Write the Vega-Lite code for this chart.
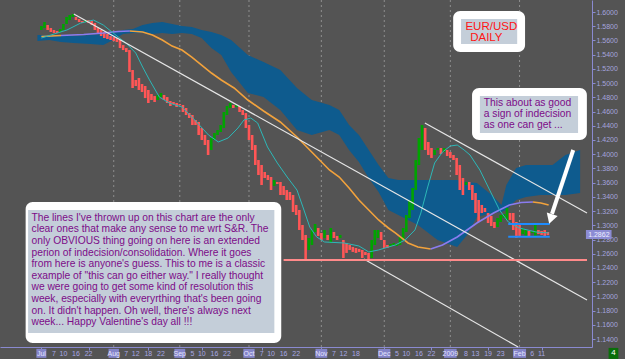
{
"$schema": "https://vega.github.io/schema/vega-lite/v6.json",
"width": 592, "height": 347,
"autosize": {"type": "none"},
"padding": {"left": 0, "top": 0, "right": 33, "bottom": 12},
"background": "#545454",
"config": {"view": {"stroke": null}, "text": {"font": "Liberation Sans"}, "axis": {"grid": false, "labels": false, "ticks": false, "domain": false, "labelOverlap": false, "labelSeparation": 0}},
"resolve": {"axis": {"y": "independent"}},
"datasets": {
"grid": [{"i": 23}, {"i": 44}, {"i": 66}, {"i": 89}, {"i": 109}, {"i": 130}, {"i": 152}],
"cloud": [
{"i": -1.25, "t": 1.5677, "b": 1.5592}, {"i": 2.5, "t": 1.5677, "b": 1.5606}, {"i": 6.25, "t": 1.5677, "b": 1.5578},
{"i": 10.31, "t": 1.5662, "b": 1.5564}, {"i": 15.63, "t": 1.5677, "b": 1.5550}, {"i": 19.69, "t": 1.5691, "b": 1.5535},
{"i": 22.81, "t": 1.5705, "b": 1.5606}, {"i": 25.94, "t": 1.5747, "b": 1.5691}, {"i": 29.06, "t": 1.5761, "b": 1.5705},
{"i": 32.19, "t": 1.5817, "b": 1.5705}, {"i": 35.31, "t": 1.5845, "b": 1.5691}, {"i": 38.44, "t": 1.5859, "b": 1.5705},
{"i": 41.56, "t": 1.5831, "b": 1.5691}, {"i": 44.69, "t": 1.5803, "b": 1.5705}, {"i": 47.81, "t": 1.5789, "b": 1.5691},
{"i": 50.94, "t": 1.5747, "b": 1.5634}, {"i": 54.06, "t": 1.5719, "b": 1.5493}, {"i": 57.19, "t": 1.5677, "b": 1.5395},
{"i": 60.31, "t": 1.5606, "b": 1.5156}, {"i": 65.63, "t": 1.5395, "b": 1.4861}, {"i": 70.63, "t": 1.5297, "b": 1.4804},
{"i": 75.94, "t": 1.5184, "b": 1.4622}, {"i": 81.25, "t": 1.4931, "b": 1.4340}, {"i": 85.94, "t": 1.4762, "b": 1.4270},
{"i": 91.56, "t": 1.4692, "b": 1.4340}, {"i": 94.69, "t": 1.4622, "b": 1.4270}, {"i": 97.81, "t": 1.4411, "b": 1.4059},
{"i": 100.94, "t": 1.4270, "b": 1.3890}, {"i": 104.06, "t": 1.4059, "b": 1.3665}, {"i": 107.19, "t": 1.3848, "b": 1.3468},
{"i": 110.31, "t": 1.3665, "b": 1.3215}, {"i": 113.44, "t": 1.3637, "b": 1.3145}, {"i": 119.69, "t": 1.3637, "b": 1.3004},
{"i": 125.94, "t": 1.3637, "b": 1.2793}, {"i": 132.19, "t": 1.3637, "b": 1.2695}, {"i": 135.31, "t": 1.3609, "b": 1.2864},
{"i": 138.44, "t": 1.3595, "b": 1.3117}, {"i": 143.13, "t": 1.3426, "b": 1.3173}, {"i": 146.25, "t": 1.3286, "b": 1.3187},
{"i": 147.81, "t": 1.3567, "b": 1.3215}, {"i": 150.94, "t": 1.3806, "b": 1.3356}, {"i": 154.06, "t": 1.3848, "b": 1.3398},
{"i": 158.75, "t": 1.3848, "b": 1.3426}, {"i": 162.5, "t": 1.3848, "b": 1.3426}, {"i": 166.56, "t": 1.3989, "b": 1.3426},
{"i": 171.25, "t": 1.4059, "b": 1.3454}
],
"candles": [
{"i":0,"o":1.5747,"c":1.5803},{"i":1,"o":1.5775,"c":1.5859},{"i":2,"o":1.5817,"c":1.5747},{"i":3,"o":1.5775,"c":1.5719},
{"i":4,"o":1.5747,"c":1.5705},{"i":5,"o":1.5733,"c":1.5705},{"i":6,"o":1.5719,"c":1.5761},{"i":7,"o":1.5747,"c":1.5831},
{"i":8,"o":1.5831,"c":1.5930},{"i":9,"o":1.5887,"c":1.5958},{"i":10,"o":1.5930,"c":1.5972},{"i":11,"o":1.5930,"c":1.5887},
{"i":12,"o":1.5902,"c":1.5859},{"i":13,"o":1.5873,"c":1.5845},{"i":14,"o":1.5859,"c":1.5887},{"i":15,"o":1.5887,"c":1.5845},
{"i":16,"o":1.5873,"c":1.5817},{"i":17,"o":1.5845,"c":1.5747},{"i":18,"o":1.5775,"c":1.5691},{"i":19,"o":1.5747,"c":1.5662},
{"i":20,"o":1.5719,"c":1.5634},{"i":21,"o":1.5691,"c":1.5620},{"i":22,"o":1.5662,"c":1.5606},{"i":23,"o":1.5648,"c":1.5592},
{"i":24,"o":1.5634,"c":1.5578},{"i":25,"o":1.5606,"c":1.5493},{"i":26,"o":1.5535,"c":1.5465},{"i":27,"o":1.5493,"c":1.5437},
{"i":28,"o":1.5465,"c":1.5156},{"i":29,"o":1.5184,"c":1.4931},{"i":30,"o":1.5044,"c":1.4959},{"i":31,"o":1.5072,"c":1.4903},
{"i":32,"o":1.4987,"c":1.4875},{"i":33,"o":1.4959,"c":1.4790},{"i":34,"o":1.4903,"c":1.4720},{"i":35,"o":1.4847,"c":1.4762},
{"i":36,"o":1.4818,"c":1.4734},{"i":37,"o":1.4762,"c":1.4833},{"i":38,"o":1.4804,"c":1.4861},{"i":39,"o":1.4833,"c":1.4762},
{"i":40,"o":1.4804,"c":1.4720},{"i":41,"o":1.4748,"c":1.4678},{"i":42,"o":1.4734,"c":1.4706},{"i":43,"o":1.4720,"c":1.4664},
{"i":44,"o":1.4706,"c":1.4692},{"i":45,"o":1.4692,"c":1.4593},{"i":46,"o":1.4650,"c":1.4551},{"i":47,"o":1.4579,"c":1.4509},
{"i":48,"o":1.4551,"c":1.4411},{"i":49,"o":1.4481,"c":1.4411},{"i":50,"o":1.4453,"c":1.4270},{"i":51,"o":1.4369,"c":1.4200},
{"i":52,"o":1.4270,"c":1.4129},{"i":53,"o":1.4200,"c":1.3989},{"i":54,"o":1.4059,"c":1.4228},{"i":55,"o":1.4200,"c":1.4298},
{"i":56,"o":1.4270,"c":1.4340},{"i":57,"o":1.4312,"c":1.4411},{"i":58,"o":1.4369,"c":1.4593},{"i":59,"o":1.4551,"c":1.4678},
{"i":60,"o":1.4650,"c":1.4720},{"i":61,"o":1.4692,"c":1.4650},{"i":62,"o":1.4664,"c":1.4692},{"i":63,"o":1.4678,"c":1.4593},
{"i":64,"o":1.4622,"c":1.4551},{"i":65,"o":1.4579,"c":1.4369},{"i":66,"o":1.4411,"c":1.4200},{"i":67,"o":1.4270,"c":1.4059},
{"i":68,"o":1.4129,"c":1.3848},{"i":69,"o":1.3918,"c":1.3707},{"i":70,"o":1.3848,"c":1.3567},{"i":71,"o":1.3750,"c":1.3665},
{"i":72,"o":1.3707,"c":1.3637},{"i":73,"o":1.3679,"c":1.3496},{"i":74,"o":1.3553,"c":1.3637},{"i":75,"o":1.3609,"c":1.3581},
{"i":76,"o":1.3609,"c":1.3426},{"i":77,"o":1.3553,"c":1.3426},{"i":78,"o":1.3496,"c":1.3356},{"i":79,"o":1.3468,"c":1.3356},
{"i":80,"o":1.3426,"c":1.3187},{"i":81,"o":1.3286,"c":1.3145},{"i":82,"o":1.3215,"c":1.2934},{"i":83,"o":1.3004,"c":1.2793},
{"i":84,"o":1.2864,"c":1.2512},{"i":85,"o":1.2653,"c":1.2821},{"i":86,"o":1.2723,"c":1.2934},{"i":87,"o":1.2906,"c":1.3018},
{"i":88,"o":1.2962,"c":1.2850},{"i":89,"o":1.2892,"c":1.2793},{"i":90,"o":1.2821,"c":1.2934},{"i":91,"o":1.2864,"c":1.2793},
{"i":92,"o":1.2751,"c":1.2962},{"i":93,"o":1.2906,"c":1.2821},{"i":94,"o":1.2850,"c":1.2793},{"i":95,"o":1.2821,"c":1.2864},
{"i":96,"o":1.2793,"c":1.2540},{"i":97,"o":1.2751,"c":1.2611},{"i":98,"o":1.2723,"c":1.2653},{"i":99,"o":1.2695,"c":1.2625},
{"i":100,"o":1.2681,"c":1.2611},{"i":101,"o":1.2667,"c":1.2625},{"i":102,"o":1.2653,"c":1.2540},{"i":103,"o":1.2625,"c":1.2582},
{"i":104,"o":1.2611,"c":1.2512},{"i":105,"o":1.2540,"c":1.2793},{"i":106,"o":1.2723,"c":1.2934},{"i":107,"o":1.2821,"c":1.2934},
{"i":108,"o":1.2906,"c":1.2793},{"i":109,"o":1.2793,"c":1.2681},{"i":110,"o":1.2723,"c":1.2681},{"i":111,"o":1.2709,"c":1.2737},
{"i":112,"o":1.2723,"c":1.2751},{"i":113,"o":1.2709,"c":1.2737},{"i":114,"o":1.2723,"c":1.2836},{"i":115,"o":1.2793,"c":1.2962},
{"i":116,"o":1.2906,"c":1.3145},{"i":117,"o":1.3103,"c":1.3356},{"i":118,"o":1.3215,"c":1.3525},{"i":119,"o":1.3496,"c":1.3918},
{"i":120,"o":1.3848,"c":1.4228},{"i":121,"o":1.4059,"c":1.4411},{"i":122,"o":1.4369,"c":1.4059},{"i":123,"o":1.4172,"c":1.3989},
{"i":124,"o":1.4087,"c":1.3947},{"i":125,"o":1.3989,"c":1.4059},{"i":126,"o":1.4059,"c":1.4087},{"i":127,"o":1.4087,"c":1.4003},
{"i":128,"o":1.4031,"c":1.4087},{"i":129,"o":1.4059,"c":1.3975},{"i":130,"o":1.4031,"c":1.3947},{"i":131,"o":1.3989,"c":1.3918},
{"i":132,"o":1.3947,"c":1.3707},{"i":133,"o":1.3848,"c":1.3496},{"i":134,"o":1.3665,"c":1.3426},{"i":135,"o":1.3567,"c":1.3609},
{"i":136,"o":1.3609,"c":1.3496},{"i":137,"o":1.3567,"c":1.3356},{"i":138,"o":1.3454,"c":1.3173},{"i":139,"o":1.3356,"c":1.3046},
{"i":140,"o":1.3286,"c":1.3173},{"i":141,"o":1.3243,"c":1.3187},{"i":142,"o":1.3173,"c":1.3032},{"i":143,"o":1.3131,"c":1.2990},
{"i":144,"o":1.3046,"c":1.2962},{"i":145,"o":1.2976,"c":1.3103},{"i":146,"o":1.3046,"c":1.3145},{"i":147,"o":1.3103,"c":1.3159},
{"i":148,"o":1.3075,"c":1.3243},{"i":149,"o":1.3173,"c":1.3075},{"i":150,"o":1.3173,"c":1.2934},{"i":151,"o":1.3046,"c":1.2821},
{"i":152,"o":1.3004,"c":1.2850},{"i":153,"o":1.2878,"c":1.2962},{"i":154,"o":1.2850,"c":1.2934},{"i":155,"o":1.2920,"c":1.2836},
{"i":156,"o":1.2892,"c":1.2920},{"i":157,"o":1.2850,"c":1.3004},{"i":158,"o":1.2934,"c":1.2878},{"i":159,"o":1.2920,"c":1.2864},
{"i":160,"o":1.2934,"c":1.2836},{"i":161,"o":1.2906,"c":1.2862}
],
"ma": [
{"s":1,"k":"o","i":0,"v":1.5655},{"s":1,"k":"o","i":3.13,"v":1.5662},{"s":1,"k":"o","i":6.25,"v":1.5670},
{"s":2,"k":"p","i":6.25,"v":1.5670},{"s":2,"k":"p","i":13.44,"v":1.5684},{"s":2,"k":"p","i":19.69,"v":1.5705},{"s":2,"k":"p","i":24.38,"v":1.5726},{"s":2,"k":"p","i":28.13,"v":1.5733},
{"s":3,"k":"o","i":28.13,"v":1.5733},{"s":3,"k":"o","i":32.19,"v":1.5719},{"s":3,"k":"o","i":35.31,"v":1.5677},{"s":3,"k":"o","i":38.44,"v":1.5606},
{"s":3,"k":"o","i":41.56,"v":1.5521},{"s":3,"k":"o","i":44.69,"v":1.5465},{"s":3,"k":"o","i":47.81,"v":1.5367},{"s":3,"k":"o","i":50.94,"v":1.5254},
{"s":3,"k":"o","i":54.06,"v":1.5142},{"s":3,"k":"o","i":57.19,"v":1.5044},{"s":3,"k":"o","i":61.25,"v":1.4931},{"s":3,"k":"o","i":65.63,"v":1.4762},
{"s":3,"k":"o","i":70.63,"v":1.4608},{"s":3,"k":"o","i":75.94,"v":1.4453},{"s":3,"k":"o","i":81.25,"v":1.4242},{"s":3,"k":"o","i":86.25,"v":1.4017},
{"s":3,"k":"o","i":91.56,"v":1.3778},{"s":3,"k":"o","i":94.69,"v":1.3679},{"s":3,"k":"o","i":97.81,"v":1.3525},{"s":3,"k":"o","i":100.94,"v":1.3356},
{"s":3,"k":"o","i":104.06,"v":1.3215},{"s":3,"k":"o","i":107.19,"v":1.3075},{"s":3,"k":"o","i":110.31,"v":1.2962},{"s":3,"k":"o","i":112.5,"v":1.2892},
{"s":3,"k":"o","i":116.56,"v":1.2751},{"s":3,"k":"o","i":119.69,"v":1.2695},{"s":3,"k":"o","i":123.75,"v":1.2667},
{"s":4,"k":"p","i":123.75,"v":1.2667},{"s":4,"k":"p","i":127.5,"v":1.2723},{"s":4,"k":"p","i":132.19,"v":1.2836},{"s":4,"k":"p","i":135.31,"v":1.2934},
{"s":4,"k":"p","i":138.44,"v":1.3032},{"s":4,"k":"p","i":143.75,"v":1.3173},{"s":4,"k":"p","i":148.75,"v":1.3286},{"s":4,"k":"p","i":152.5,"v":1.3321},{"s":4,"k":"p","i":156.25,"v":1.3328},
{"s":5,"k":"o","i":156.25,"v":1.3328},{"s":5,"k":"o","i":158.75,"v":1.3314},{"s":5,"k":"o","i":161.25,"v":1.3286}
],
"teal": [
{"i":0,"v":1.5634},{"i":4.06,"v":1.5691},{"i":8.13,"v":1.5747},{"i":12.5,"v":1.5845},{"i":16.56,"v":1.5887},{"i":19.69,"v":1.5817},
{"i":22.81,"v":1.5705},{"i":26.88,"v":1.5564},{"i":30,"v":1.5423},{"i":32.19,"v":1.5226},{"i":34.38,"v":1.5044},{"i":37.5,"v":1.4804},
{"i":40.63,"v":1.4720},{"i":44.69,"v":1.4664},{"i":48.75,"v":1.4481},{"i":53.13,"v":1.4270},{"i":56.25,"v":1.4172},{"i":59.38,"v":1.4228},
{"i":62.5,"v":1.4369},{"i":64.38,"v":1.4481},{"i":66.56,"v":1.4509},{"i":68.75,"v":1.4439},{"i":71.88,"v":1.4101},{"i":75,"v":1.3876},
{"i":78.13,"v":1.3679},{"i":81.25,"v":1.3496},{"i":83.13,"v":1.3258},{"i":85.31,"v":1.2976},{"i":87.5,"v":1.2836},{"i":90,"v":1.2765},
{"i":96.25,"v":1.2751},{"i":100.94,"v":1.2709},{"i":104.06,"v":1.2625},{"i":107.19,"v":1.2653},{"i":112.5,"v":1.2723},{"i":115.63,"v":1.2793},
{"i":118.75,"v":1.2934},{"i":120.63,"v":1.3173},{"i":122.81,"v":1.3539},{"i":125,"v":1.3876},{"i":127.5,"v":1.4031},{"i":130,"v":1.4115},
{"i":132.19,"v":1.4129},{"i":134.38,"v":1.4059},{"i":136.25,"v":1.3989},{"i":139.38,"v":1.3778},{"i":142.5,"v":1.3496},{"i":145.63,"v":1.3215},
{"i":148.44,"v":1.3046},{"i":151.88,"v":1.2962},{"i":157.19,"v":1.2906},{"i":161.25,"v":1.2892}
],
"trend": [
{"x1":10.31,"y1":1.5972,"x2":173.44,"y2":1.1949},
{"x1":121.9,"y1":1.4439,"x2":173.44,"y2":1.3173},
{"x1":102.5,"y1":1.2526,"x2":151.56,"y2":1.1288}
],
"support": [{"x1":77,"y1":1.2512,"x2":173.44,"y2":1.2512}],
"range": [
{"x1":148.4,"y1":1.3018,"x2":161.6,"y2":1.3018},
{"x1":148.4,"y1":1.2840,"x2":161.6,"y2":1.2840}
],
"outer": [
{"x1":-5.0,"x2":76.25,"y1":1.3328,"y2":1.1345},
{"x1":136.9,"x2":173.4,"y1":1.4932,"y2":1.4200},
{"x1":130.9,"x2":153.75,"y1":1.6014,"y2":1.5437}
],
"inner": [
{"x1":-4.22,"x2":74.06,"y1":1.3215,"y2":1.1485},
{"x1":139.4,"x2":170.6,"y1":1.4819,"y2":1.4298},
{"x1":133.4,"x2":151.25,"y1":1.5902,"y2":1.5550}
],
"months": [
{"i":0,"t":"Jul"},{"i":23,"t":"Aug"},{"i":44,"t":"Sep"},{"i":66,"t":"Oct"},{"i":89,"t":"Nov"},{"i":109,"t":"Dec"},{"i":130,"t":"2009"},{"i":152,"t":"Feb"}
],
"days": [
{"i":4,"t":"7"},{"i":7,"t":"10"},{"i":11,"t":"16"},{"i":15,"t":"22"},{"i":27,"t":"7"},{"i":30,"t":"12"},{"i":34,"t":"18"},{"i":38,"t":"22"},
{"i":48,"t":"5"},{"i":51,"t":"10"},{"i":55,"t":"16"},{"i":59,"t":"22"},{"i":70,"t":"7"},{"i":73,"t":"10"},{"i":77,"t":"16"},{"i":81,"t":"22"},
{"i":93,"t":"7"},{"i":96,"t":"12"},{"i":100,"t":"18"},{"i":113,"t":"5"},{"i":116,"t":"10"},{"i":120,"t":"16"},{"i":124,"t":"22"},
{"i":135,"t":"8"},{"i":138,"t":"13"},{"i":142,"t":"19"},{"i":146,"t":"23"},{"i":156,"t":"6"},{"i":159,"t":"11"}
]
},
"layer": [
{"data": {"name": "grid"}, "mark": {"type": "rule", "stroke": "#8e8e8e", "strokeDash": [2, 3], "strokeWidth": 1},
 "encoding": {"x": {"field": "i", "type": "quantitative", "title": null, "scale": {"domain": [-11.56, 173.44], "nice": false, "zero": false},
   "axis": {"orient": "bottom", "title": null, "labels": false, "ticks": true, "domain": true, "grid": false, "values": [0,4,7,11,15,23,27,30,34,38,44,48,51,55,59,66,70,73,77,81,89,93,96,100,109,113,116,120,124,130,135,138,142,146,152,156,159], "domainColor": "#8a8ad0", "tickColor": "#8a8ad0", "tickSize": 3}}}},
{"data": {"name": "cloud"}, "mark": {"type": "area", "color": "#0e5b8e"},
 "encoding": {"x": {"field": "i", "type": "quantitative", "title": null},
   "y": {"field": "t", "type": "quantitative", "title": null, "scale": {"domain": [1.1288, 1.6169], "nice": false, "zero": false},
     "axis": {"orient": "right", "title": null, "grid": false, "labels": true, "ticks": true, "domain": true, "values": [1.14,1.16,1.18,1.2,1.22,1.24,1.26,1.28,1.3,1.32,1.34,1.36,1.38,1.4,1.42,1.44,1.46,1.48,1.5,1.52,1.54,1.56,1.58,1.6], "format": ".4f", "labelColor": "#a4a4de", "labelFont": "Liberation Sans", "labelFontSize": 7, "labelOverlap": false, "labelSeparation": 0, "labelBound": false, "labelPadding": 1, "tickSize": 3, "tickColor": "#8a8ad0", "domainColor": "#8a8ad0"}},
   "y2": {"field": "b"}}},
{"data": {"name": "candles"}, "mark": {"type": "bar", "width": 2.6},
 "encoding": {"x": {"field": "i", "type": "quantitative", "title": null},
   "y": {"field": "o", "type": "quantitative", "title": null},
   "y2": {"field": "c"},
   "color": {"condition": {"test": "datum.c >= datum.o", "value": "#00a400"}, "value": "#ff5656"}}},
{"data": {"name": "ma"}, "mark": {"type": "line", "strokeWidth": 1.6},
 "encoding": {"x": {"field": "i", "type": "quantitative", "title": null},
   "y": {"field": "v", "type": "quantitative", "title": null},
   "detail": {"field": "s", "type": "nominal"},
   "color": {"field": "k", "type": "nominal", "scale": {"domain": ["o", "p"], "range": ["#f2a23c", "#8a7cf0"]}, "legend": null}}},
{"data": {"name": "teal"}, "mark": {"type": "line", "strokeWidth": 1, "color": "#2cb8b8"},
 "encoding": {"x": {"field": "i", "type": "quantitative", "title": null},
   "y": {"field": "v", "type": "quantitative", "title": null}}},
{"data": {"name": "trend"}, "mark": {"type": "rule", "color": "#e6e6e6", "strokeWidth": 1.2},
 "encoding": {"x": {"field": "x1", "type": "quantitative", "title": null},
   "y": {"field": "y1", "type": "quantitative", "title": null},
   "x2": {"field": "x2"}, "y2": {"field": "y2"}}},
{"data": {"name": "support"}, "mark": {"type": "rule", "color": "#ff8a8a", "strokeWidth": 2},
 "encoding": {"x": {"field": "x1", "type": "quantitative", "title": null},
   "y": {"field": "y1", "type": "quantitative", "title": null},
   "x2": {"field": "x2"}, "y2": {"field": "y2"}}},
{"data": {"name": "range"}, "mark": {"type": "rule", "color": "#1e8cff", "strokeWidth": 2},
 "encoding": {"x": {"field": "x1", "type": "quantitative", "title": null},
   "y": {"field": "y1", "type": "quantitative", "title": null},
   "x2": {"field": "x2"}, "y2": {"field": "y2"}}},
{"data": {"name": "outer"}, "mark": {"type": "rect", "color": "#ffffff", "cornerRadius": 7},
 "encoding": {"x": {"field": "x1", "type": "quantitative", "title": null},
   "y": {"field": "y1", "type": "quantitative", "title": null},
   "x2": {"field": "x2"}, "y2": {"field": "y2"}}},
{"data": {"name": "inner"}, "mark": {"type": "rect", "color": "#c4ced9"},
 "encoding": {"x": {"field": "x1", "type": "quantitative", "title": null},
   "y": {"field": "y1", "type": "quantitative", "title": null},
   "x2": {"field": "x2"}, "y2": {"field": "y2"}}},
{"data": {"values": [{"t": "The lines I've thrown up on this chart are the only\nclear ones that make any sense to me wrt S&R.  The\nonly OBVIOUS thing going on here is an extended\nperion of indecision/consolidation.  Where it goes\nfrom here is anyone's guess.  This to me is a classic\nexample of \"this can go either way.\"  I really thought\nwe were going to get some kind of resolution this\nweek, especially with everyrthing that's been going\non.  It didn't happen.  Oh well, there's always next\nweek...  Happy Valentine's day all !!!"}]},
 "mark": {"type": "text", "align": "left", "baseline": "top", "lineBreak": "\n", "lineHeight": 11.6, "fontSize": 10.25, "color": "#7c0c88"},
 "encoding": {"x": {"datum": -3.13, "type": "quantitative", "title": null}, "y": {"datum": 1.3177, "type": "quantitative", "title": null}, "text": {"field": "t"}}},
{"data": {"values": [{"t": "This about as good\na sign of indecision\nas one can get ..."}]},
 "mark": {"type": "text", "align": "left", "baseline": "top", "lineBreak": "\n", "lineHeight": 10.8, "fontSize": 10.3, "color": "#7c0c88"},
 "encoding": {"x": {"datum": 140.6, "type": "quantitative", "title": null}, "y": {"datum": 1.4791, "type": "quantitative", "title": null}, "text": {"field": "t"}}},
{"data": {"values": [{"t": "EUR/USD"}]},
 "mark": {"type": "text", "align": "left", "baseline": "top", "fontSize": 11.5, "color": "#ff1414"},
 "encoding": {"x": {"datum": 134.8, "type": "quantitative", "title": null}, "y": {"datum": 1.5869, "type": "quantitative", "title": null}, "text": {"field": "t"}}},
{"data": {"values": [{"t": "DAILY"}]},
 "mark": {"type": "text", "align": "left", "baseline": "top", "fontSize": 11.5, "color": "#ff1414"},
 "encoding": {"x": {"datum": 136.3, "type": "quantitative", "title": null}, "y": {"datum": 1.5714, "type": "quantitative", "title": null}, "text": {"field": "t"}}},
{"data": {"values": [{"a": 1}]}, "mark": {"type": "rule", "color": "#ffffff", "strokeWidth": 4},
 "encoding": {"x": {"datum": 169.06, "type": "quantitative", "title": null}, "y": {"datum": 1.4059, "type": "quantitative", "title": null},
   "x2": {"datum": 162.3}, "y2": {"datum": 1.3159}}},
{"data": {"values": [{"a": 1}]}, "mark": {"type": "point", "shape": "triangle-up", "filled": true, "color": "#ffffff", "opacity": 1, "size": 130, "angle": 198},
 "encoding": {"x": {"datum": 161.9, "type": "quantitative", "title": null}, "y": {"datum": 1.3089, "type": "quantitative", "title": null}}},
{"data": {"values": [{"a": 1}]}, "mark": {"type": "rect", "color": "#8c8cd4"},
 "encoding": {"x": {"datum": 173.1, "type": "quantitative", "title": null}, "y": {"datum": 1.2934, "type": "quantitative", "title": null},
   "x2": {"datum": 181.25}, "y2": {"datum": 1.2807}}},
{"data": {"values": [{"t": "1.2862"}]}, "mark": {"type": "text", "align": "center", "baseline": "middle", "fontSize": 7, "color": "#eeeeff"},
 "encoding": {"x": {"datum": 177.2, "type": "quantitative", "title": null}, "y": {"datum": 1.2870, "type": "quantitative", "title": null}, "text": {"field": "t"}}},
{"data": {"values": [{"a": 1}]}, "mark": {"type": "rect", "color": "#0a6e0a"},
 "encoding": {"x": {"datum": 180.3, "type": "quantitative", "title": null}, "y": {"datum": 1.1275, "type": "quantitative", "title": null},
   "x2": {"datum": 183.4}, "y2": {"datum": 1.1120}}},
{"data": {"values": [{"t": "4"}]}, "mark": {"type": "text", "align": "center", "baseline": "middle", "fontSize": 8, "color": "#ffffff"},
 "encoding": {"x": {"datum": 181.85, "type": "quantitative", "title": null}, "y": {"datum": 1.1197, "type": "quantitative", "title": null}, "text": {"field": "t"}}},
{"data": {"name": "months"}, "mark": {"type": "bar", "color": "#8484c8"},
 "encoding": {"x": {"field": "i", "type": "quantitative", "title": null},
   "y": {"datum": 1.1262, "type": "quantitative", "title": null}, "y2": {"datum": 1.1135},
   "size": {"field": "t", "type": "nominal", "scale": {"domain": ["Jul","Aug","Sep","Oct","Nov","Dec","2009","Feb"], "range": [10,13,13,11,14,14,16,13]}, "legend": null}}},
{"data": {"name": "months"}, "mark": {"type": "text", "align": "center", "baseline": "middle", "fontSize": 7, "color": "#e4e4ff"},
 "encoding": {"x": {"field": "i", "type": "quantitative", "title": null}, "y": {"datum": 1.1195, "type": "quantitative", "title": null}, "text": {"field": "t"}}},
{"data": {"name": "days"}, "mark": {"type": "text", "align": "center", "baseline": "middle", "fontSize": 7, "color": "#a8a8e4"},
 "encoding": {"x": {"field": "i", "type": "quantitative", "title": null}, "y": {"datum": 1.1195, "type": "quantitative", "title": null}, "text": {"field": "t"}}}
]
}
